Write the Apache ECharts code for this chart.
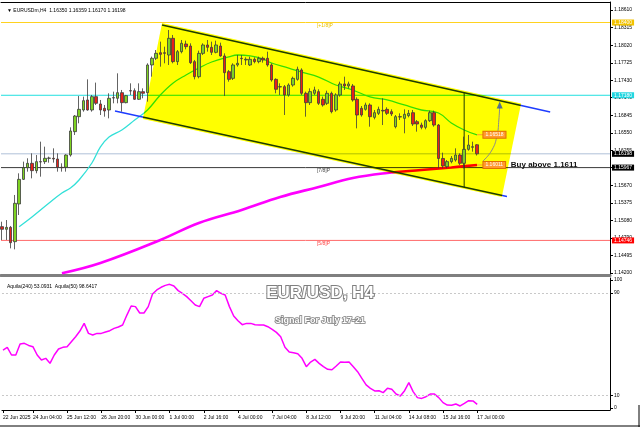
<!DOCTYPE html>
<html><head><meta charset="utf-8">
<script src="https://cdn.jsdelivr.net/npm/echarts@6/dist/echarts.min.js"></script>
<style>html,body{margin:0;padding:0;background:#fff}#c{width:640px;height:427px}</style>
</head><body><div id="c"></div>
<script>
// ---- data (bar index = position in arrays) ----
const ohlc = [ // [open, close, low, high]
[1.14977,1.14932,1.14753,1.15060],[1.14932,1.14965,1.14753,1.15088],[1.14965,1.14708,1.14613,1.14988],[1.14725,1.15368,1.14596,1.15508],
[1.15357,1.15770,1.15172,1.15871],[1.15770,1.15966,1.15759,1.16067],[1.15966,1.16039,1.15899,1.16123],[1.16039,1.15916,1.15787,1.16206],
[1.15916,1.16067,1.15871,1.16178],[1.16067,1.16061,1.15815,1.16402],[1.16067,1.16123,1.16028,1.16318],[1.16123,1.16128,1.16050,1.16151],
[1.16123,1.16111,1.16050,1.16290],[1.16111,1.15972,1.15899,1.16206],[1.15972,1.15966,1.15899,1.16039],[1.15972,1.16178,1.15899,1.16190],
[1.16178,1.16581,1.16151,1.16642],[1.16570,1.16832,1.16514,1.16849],[1.16821,1.16944,1.16710,1.17168],[1.16933,1.17090,1.16905,1.17157],
[1.17101,1.16933,1.16922,1.17447],[1.16933,1.17157,1.16905,1.17185],[1.17157,1.17045,1.17017,1.17392],[1.17034,1.16933,1.16849,1.17101],
[1.16961,1.16916,1.16821,1.17017],[1.16933,1.17129,1.16793,1.17213],[1.17140,1.17134,1.17045,1.17241],[1.17129,1.17224,1.17045,1.17548],
[1.17224,1.17056,1.16905,1.17269],[1.17056,1.17174,1.17045,1.17185],[1.17257,1.17252,1.17185,1.17380],[1.17257,1.17112,1.17101,1.17296],
[1.17112,1.17241,1.17101,1.17380],[1.17241,1.17213,1.17129,1.17296],[1.17224,1.17688,1.17073,1.17716],[1.17688,1.17800,1.17492,1.17828],
[1.17800,1.17883,1.17772,1.17939],[1.17894,1.17866,1.17660,1.18079],[1.17894,1.17883,1.17716,1.17995],[1.17855,1.18135,1.17688,1.18275],
[1.18135,1.17744,1.17716,1.18191],[1.17744,1.17911,1.17688,1.17939],[1.17911,1.18051,1.17883,1.18107],[1.18040,1.17995,1.17950,1.18096],
[1.18006,1.17727,1.17704,1.18051],[1.17744,1.17492,1.17447,1.17772],[1.17492,1.17883,1.17464,1.17928],[1.17883,1.18023,1.17855,1.18051],
[1.18023,1.17984,1.17911,1.18107],[1.17984,1.17900,1.17855,1.18079],[1.17900,1.18023,1.17883,1.18096],[1.18006,1.17839,1.17827,1.18062],
[1.17839,1.17559,1.17168,1.17883],[1.17576,1.17447,1.17408,1.17604],[1.17464,1.17688,1.17436,1.17716],[1.17688,1.17716,1.17660,1.17855],
[1.17800,1.17794,1.17688,1.17855],[1.17772,1.17783,1.17688,1.17816],[1.17688,1.17783,1.17671,1.17827],[1.17783,1.17744,1.17716,1.17816],
[1.17744,1.17800,1.17716,1.17827],[1.17800,1.17772,1.17727,1.17827],[1.17800,1.17688,1.17660,1.17911],[1.17688,1.17436,1.17408,1.17716],
[1.17447,1.17280,1.17213,1.17464],[1.17324,1.17319,1.17185,1.17380],[1.17324,1.17185,1.16849,1.17352],[1.17185,1.17352,1.17157,1.17380],
[1.17352,1.17464,1.17324,1.17492],[1.17447,1.17615,1.17425,1.17660],[1.17604,1.17213,1.17185,1.17632],[1.17213,1.17056,1.16821,1.17241],
[1.17056,1.17241,1.17017,1.17296],[1.17213,1.17269,1.17185,1.17324],[1.17241,1.17045,1.17017,1.17280],[1.17112,1.17017,1.16989,1.17157],
[1.17045,1.17213,1.17017,1.17257],[1.17213,1.16905,1.16877,1.17241],[1.16933,1.17185,1.16905,1.17213],[1.17185,1.17369,1.17157,1.17408],
[1.17369,1.17336,1.17269,1.17492],[1.17336,1.17369,1.17296,1.17408],[1.17336,1.17101,1.17073,1.17369],[1.17112,1.16849,1.16625,1.17145],
[1.16961,1.16849,1.16821,1.17000],[1.16944,1.17017,1.16922,1.17056],[1.17017,1.16821,1.16653,1.17045],[1.16810,1.16888,1.16777,1.16933],
[1.16877,1.16944,1.16849,1.16989],[1.16927,1.16916,1.16681,1.17129],[1.16944,1.16877,1.16849,1.16978],[1.16905,1.16866,1.16832,1.16944],
[1.16653,1.16821,1.16625,1.16849],[1.16821,1.16816,1.16765,1.16877],[1.16793,1.16860,1.16542,1.16944],[1.16838,1.16877,1.16810,1.16933],
[1.16888,1.16698,1.16665,1.16933],[1.16737,1.16698,1.16570,1.16765],[1.16681,1.16642,1.16609,1.16721],[1.16642,1.16754,1.16609,1.16777],
[1.16754,1.16888,1.16732,1.16922],[1.16888,1.16681,1.16653,1.16922],[1.16681,1.16120,1.15955,1.16698],[1.16120,1.15994,1.15955,1.16218],
[1.15983,1.16067,1.15955,1.16094],[1.16067,1.16122,1.16039,1.16161],[1.16094,1.16178,1.16067,1.16290],[1.16178,1.16039,1.16011,1.16206],
[1.16039,1.16273,1.15955,1.16486],[1.16273,1.16346,1.16251,1.16514],[1.16307,1.16318,1.16234,1.16402],[1.16350,1.16198,1.16170,1.16359]
];
const maFast = [[4,1.14976],[7,1.15139],[11,1.15373],[14,1.15541],[16,1.15625],[18,1.15759],[21,1.16044],[23,1.16313],[25,1.16480],
[28,1.16598],[31,1.16765],[34,1.16933],[37,1.17185],[40,1.17386],[43,1.17520],[46,1.17637],[49,1.17738],[53,1.17822],[55,1.17855],
[58,1.17839],[61,1.17788],[63,1.17721],[67,1.17637],[70,1.17570],[74,1.17486],[78,1.17352],[82,1.17268],[86,1.17151],[90,1.17101],
[94,1.17017],[98,1.16933],[102,1.16883],[105,1.16715],[108,1.16598],[111,1.16514]];
const maSlow = [[14,1.14195],[23,1.14367],[37,1.14753],[46,1.15038],[56,1.15256],[65,1.15474],[74,1.15642],[82,1.15793],[90,1.15877],
[98,1.15927],[105,1.15970],[111,1.16011]];
const aquila = [45.3,47.4,41.4,41.4,50.0,50.5,48.9,47.9,41.4,37.5,38.8,34.9,41.4,46.1,47.4,47.9,51.8,55.7,60.1,66.1,
58.3,57.0,58.3,58.3,59.4,60.4,62.2,63.3,64.8,72.6,79.7,79.2,74.2,74.2,79.2,89.0,92.2,94.3,95.8,96.6,
95.3,91.7,89.6,87.0,83.8,80.5,79.2,85.7,87.0,88.3,91.7,89.6,88.3,79.2,71.9,68.2,65.1,66.1,66.1,65.1,
64.8,64.8,63.5,61.5,59.1,55.7,47.4,43.7,43.2,42.4,38.8,32.3,35.9,38.0,34.9,32.3,30.2,29.9,32.8,35.9,
35.7,35.9,32.3,28.4,23.2,18.0,15.4,13.3,13.5,12.0,15.4,14.6,10.9,9.4,13.5,19.8,12.8,8.1,7.5,8.8,
10.9,10.9,8.1,4.2,2.3,2.1,3.1,1.6,3.6,5.7,5.5,2.9];
const hLevels = [1.18400, 1.17180, 1.16198, 1.15967, 1.14746];
const chanUpper = [[37.4,1.18358],[128.1,1.16899]];
const chanLower = [[26.4,1.16916],[118.0,1.15482]];
const chanFill = [[37.4,1.18392],[121.3,1.17042],[116.8,1.15474],[32.9,1.16782]];
const chanCross = [[108,1.17222],[108,1.15639]];
const arrowPath = [[112.4,1.16078],[114.5,1.16262],[115.7,1.16514],[116.1,1.16765],[116.3,1.16983]];
const maFastLast = 1.16518, maSlowLast = 1.16011;
const levelNames = ['[+1/8]P', '[7/8]P', '[5/8]P'];
const levelNameVals = [1.18400, 1.15967, 1.14746];
const priceTicks = [1.14200,1.14495,1.14790,1.15080,1.15375,1.15670,1.15965,1.16255,1.16550,1.16845,1.17140,1.17430,1.17725,1.18020,1.18315,1.18610];
const oscTicks = [0, 10, 90, 100];
const oscLevels = [10, 90];
const xTickIdx = [0,7,15,23,31,39,47,55,63,71,79,87,95,103,111];
const xTickLabels = ['22 Jun 2025','24 Jun 04:00','25 Jun 12:00','26 Jun 20:00','30 Jun 00:00','1 Jul 00:00','2 Jul 16:00','4 Jul 00:00','7 Jul 04:00','8 Jul 12:00','9 Jul 20:00','11 Jul 04:00','14 Jul 08:00','15 Jul 16:00','17 Jul 00:00'];
const buyText = 'Buy above 1.1611';

// ---- chart ----
const F = '"Liberation Sans", Arial, "DejaVu Sans", sans-serif';
const XMIN = -0.24, XMAX = 142.08;
const chart = echarts.init(document.getElementById('c'), null, {renderer: 'canvas'});
const hColors = ['#FFD21F', '#22E0E0', '#AFC0D8', '#3A3A3A', '#FF6A6A'];
const hBox = ['#F2C200', '#22D6E0', '#000000', '#000000', '#FF0000'];

const levelSeries = hLevels.map((v, k) => ({
  type: 'line', xAxisIndex: 0, yAxisIndex: 0, z: 1, silent: true, symbol: 'none',
  data: [[XMIN, v], [XMAX, v]], lineStyle: {color: hColors[k], width: 1},
  endLabel: {show: true, formatter: () => v.toFixed(5), distance: 2, fontSize: 5, color: '#fff',
    backgroundColor: hBox[k], padding: [1, 2, 0, 2], fontFamily: F}
}));

const option = {
  animation: false,
  backgroundColor: '#ffffff',
  textStyle: {fontFamily: F},
  title: [
    {text: '\u25BC EURUSDm,H4  1.16350 1.16359 1.16170 1.16198', left: 2, top: 3,
      textStyle: {fontSize: 5, fontWeight: 'normal', color: '#000', fontFamily: F}},
    {text: 'Aquila(240) 53.0931  Aquila(50) 98.6417', left: 2, top: 279,
      textStyle: {fontSize: 5, fontWeight: 'normal', color: '#000', fontFamily: F}},
    {text: 'EUR/USD, H4', left: 'center', top: 280,
      textStyle: {fontSize: 17, fontWeight: 'bold', color: '#fff', fontFamily: F,
        textBorderColor: '#808080', textBorderWidth: 2, textShadowColor: '#b0b0b0', textShadowOffsetX: 1, textShadowOffsetY: 1}},
    {text: 'Signal For July 17-21', left: 'center', top: 311,
      textStyle: {fontSize: 9, fontWeight: 'bold', color: '#fff', fontFamily: F,
        textBorderColor: '#808080', textBorderWidth: 1.6}}
  ],
  grid: [
    {left: 1, right: 30, top: 2, height: 273},
    {left: 1, right: 30, top: 278, bottom: 17}
  ],
  xAxis: [
    {type: 'value', gridIndex: 0, min: XMIN, max: XMAX, position: 'bottom',
      axisLine: {show: true, onZero: false, lineStyle: {color: '#7f7f7f', width: 3}},
      axisTick: {show: false}, axisLabel: {show: false}, splitLine: {show: false}},
    {type: 'value', gridIndex: 1, min: XMIN, max: XMAX, position: 'bottom',
      axisLine: {show: true, onZero: false, lineStyle: {color: '#000', width: 1}},
      axisTick: {show: true, length: 3, customValues: xTickIdx, lineStyle: {color: '#000'}},
      axisLabel: {show: true, customValues: xTickIdx, align: 'left', margin: 5, fontSize: 5, color: '#000', fontFamily: F,
        formatter: v => xTickLabels[xTickIdx.indexOf(Math.round(v))] || ''},
      splitLine: {show: false}},
    {type: 'value', gridIndex: 0, min: XMIN, max: XMAX, position: 'top',
      axisLine: {show: true, onZero: false, lineStyle: {color: '#000', width: 1}},
      axisTick: {show: false}, axisLabel: {show: false}, splitLine: {show: false}}
  ],
  yAxis: [
    {type: 'value', gridIndex: 0, position: 'right', min: 1.14166, max: 1.18744, scale: true,
      axisLine: {show: true, onZero: false, lineStyle: {color: '#000'}},
      axisTick: {show: true, length: 3, customValues: priceTicks, lineStyle: {color: '#000'}},
      axisLabel: {customValues: priceTicks, fontSize: 5, color: '#000', margin: 4, fontFamily: F,
        formatter: v => v.toFixed(5)},
      splitLine: {show: false}},
    {type: 'value', gridIndex: 1, position: 'right', min: -1.56, max: 101.56,
      axisLine: {show: true, onZero: false, lineStyle: {color: '#000'}},
      axisTick: {show: true, length: 3, customValues: oscTicks, lineStyle: {color: '#000'}},
      axisLabel: {customValues: oscTicks, fontSize: 5, color: '#000', margin: 4, fontFamily: F,
        formatter: v => String(Math.round(v))},
      splitLine: {show: false}}
  ],
  series: [
    ...levelSeries,
    // moving averages
    {type: 'line', xAxisIndex: 0, yAxisIndex: 0, data: maFast, z: 1, silent: true, symbol: 'none', smooth: 0.4,
      lineStyle: {color: '#33E0D8', width: 1.3}},
    {type: 'line', xAxisIndex: 0, yAxisIndex: 0, data: maSlow, z: 1, silent: true, symbol: 'none', smooth: 0.4,
      lineStyle: {color: '#FF00FF', width: 2.6}},
    // channel lines (blue; black where under the yellow fill)
    {type: 'line', xAxisIndex: 0, yAxisIndex: 0, data: chanUpper, z: 1, silent: true, symbol: 'none',
      lineStyle: {color: '#1E3CFF', width: 1.5}},
    {type: 'line', xAxisIndex: 0, yAxisIndex: 0, data: chanLower, z: 1, silent: true, symbol: 'none',
      lineStyle: {color: '#1E3CFF', width: 1.5}},
    {type: 'line', xAxisIndex: 0, yAxisIndex: 0, data: chanCross, z: 1, silent: true, symbol: 'none',
      lineStyle: {color: '#1E3CFF', width: 1}},
    // yellow channel fill, multiplied over what is beneath
    {type: 'custom', xAxisIndex: 0, yAxisIndex: 0, data: [0], z: 2, silent: true,
      renderItem: (params, api) => ({type: 'polygon',
        shape: {points: chanFill.map(p => api.coord(p))},
        style: {fill: '#FFFF00', blend: 'multiply'}})},
    // candles
    {type: 'candlestick', xAxisIndex: 0, yAxisIndex: 0, z: 3, silent: true, barWidth: 3,
      encode: {x: 0, y: [1, 2, 3, 4]},
      data: ohlc.map((d, i) => [i, d[0], d[1], d[2], d[3]]),
      itemStyle: {color: '#7ED321', color0: '#E8201A', borderColor: '#3c3c3c', borderColor0: '#3c3c3c', borderWidth: 0.8}},
    // arrow
    {type: 'line', xAxisIndex: 0, yAxisIndex: 0, data: arrowPath, z: 4, silent: true, symbol: 'none', smooth: 0.5,
      lineStyle: {color: '#8a8a8a', width: 1}},
    {type: 'scatter', xAxisIndex: 0, yAxisIndex: 0, data: [arrowPath[arrowPath.length - 1]], z: 4, silent: true,
      symbol: 'triangle', symbolSize: [6, 7], symbolOffset: [0, -2], itemStyle: {color: '#2B4FB0'}},
    // annotations
    {type: 'custom', xAxisIndex: 0, yAxisIndex: 0, data: [0], z: 5, silent: true,
      renderItem: (params, api) => {
        const kids = [];
        const boxStyle = (txt) => ({text: txt, fill: '#fff', backgroundColor: '#FF9A2E', borderColor: '#E07000', borderWidth: 1,
          padding: [1, 2, 0, 2], font: '5px ' + F, align: 'left', verticalAlign: 'middle'});
        [[maFastLast, 111], [maSlowLast, 111]].forEach(([v, i]) => {
          const a = api.coord([i, v]), b = api.coord([112.5, v]);
          kids.push({type: 'line', shape: {x1: a[0], y1: a[1], x2: b[0], y2: b[1]}, style: {stroke: '#FF9A2E', lineWidth: 1}});
          kids.push({type: 'text', x: b[0], y: b[1], style: boxStyle(v.toFixed(5))});
        });
        const t = api.coord([118.9, maSlowLast]);
        kids.push({type: 'text', x: t[0], y: t[1], style: {text: buyText, fill: '#111', font: 'bold 8px ' + F, align: 'left', verticalAlign: 'middle'}});
        const lc = ['#E8C000', '#444', '#FF4040'];
        levelNames.forEach((n, k) => {
          const p = api.coord([73.6, levelNameVals[k]]);
          kids.push({type: 'text', x: p[0], y: p[1] + 1, style: {text: n, fill: lc[k], font: '5px ' + F, align: 'left', verticalAlign: 'top'}});
        });
        return {type: 'group', children: kids};
      }},
    // oscillator
    {type: 'line', xAxisIndex: 1, yAxisIndex: 1, data: aquila.map((v, i) => [i, v]), z: 3, silent: true, symbol: 'none',
      lineStyle: {color: '#FF00FF', width: 1.5},
      markLine: {silent: true, symbol: ['none', 'none'], label: {show: false},
        lineStyle: {color: '#c8c8c8', type: [2, 2], width: 1},
        data: oscLevels.map(v => ({yAxis: v}))}}
  ],
  graphic: [
    {type: 'line', shape: {x1: 0, y1: 426, x2: 640, y2: 426}, style: {stroke: '#000', lineWidth: 1}},
    {type: 'line', shape: {x1: 639, y1: 405, x2: 639, y2: 427}, style: {stroke: '#000', lineWidth: 1}}
  ]
};
chart.setOption(option);

// make the channel fill multiply over the lines beneath it (as the platform draws it)
function applyBlend() {
  const zr = chart.getZr();
  zr.storage.getDisplayList(true).forEach(el => {
    if (el.type === 'polygon' && el.shape && el.shape.points && el.shape.points.length === 4 &&
        el.style && String(el.style.fill).toLowerCase() === '#ffff00') {
      el.style.blend = 'multiply';
      if (el.markRedraw) el.markRedraw();
    }
  });
  zr.refreshImmediately();
}
applyBlend();
</script>
</body></html>
